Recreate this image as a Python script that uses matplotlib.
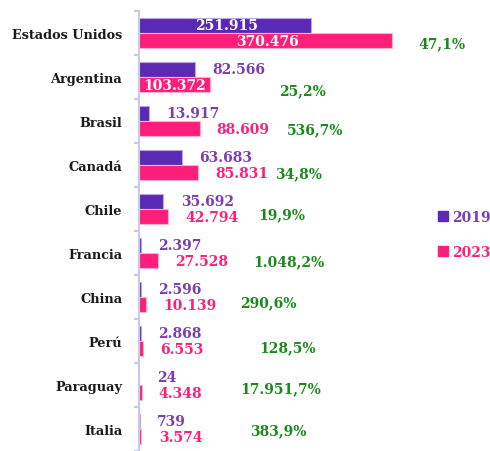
import numpy as np
import matplotlib
matplotlib.use('Agg')
import matplotlib.pyplot as plt
from matplotlib.patches import Patch

# Data
countries = ['Estados Unidos', 'Argentina', 'Brasil', 'Canadá', 'Chile',
             'Francia', 'China', 'Perú', 'Paraguay', 'Italia']
values_2019 = [251915, 82566, 13917, 63683, 35692, 2397, 2596, 2868, 24, 739]
values_2023 = [370476, 103372, 88609, 85831, 42794, 27528, 10139, 6553, 4348, 3574]
growth_labels = ['47,1%', '25,2%', '536,7%', '34,8%', '19,9%', '1.048,2%',
                 '290,6%', '128,5%', '17.951,7%', '383,9%']

# label placement (x in data units, y offset in category units)
lbl_x_2019 = [128800, 146400, 79000, 127000, 100000, 60000, 60000, 60000, 41000, 48000]
lbl_x_2023 = [187400, 52700, 152000, 151000, 107000, 92000, 75000, 63000, 61000, 61000]
lbl_x_pct = [443600, 240000, 258000, 233000, 209000, 220000, 190000, 217000, 208000, 204000]
pct_dy = [0.24, 0.29, 0.18, 0.18, 0.11, 0.18, 0.12, 0.13, 0.07, 0.03]
inside_2019 = [True] + [False] * 9
inside_2023 = [True, True] + [False] * 8

c19 = '#5B2AB5'
c23 = '#FF1F7A'
c19_txt = '#7A3EB1'
c_green = '#1A8A1A'
c_axis = '#C9C9EE'

plt.rcParams['font.family'] = 'DejaVu Serif'
plt.rcParams['font.weight'] = 'bold'

fig = plt.figure(figsize=(4.9, 4.52), dpi=100)
ax = fig.add_axes([139 / 490, 0, 351 / 490, 440 / 452])

y = np.arange(len(countries))
h = 0.35
ax.barh(y - h / 2, values_2019, height=h, color=c19, edgecolor='#B9A5E0', linewidth=0.8)
ax.barh(y + h / 2, values_2023, height=h, color=c23, edgecolor='#FFB0CF', linewidth=0.8)

fmt = lambda v: f'{v:,}'.replace(',', '.')
fs = 10
for i in range(len(countries)):
    ax.text(lbl_x_2019[i], i - h / 2, fmt(values_2019[i]), ha='center', va='center',
            fontsize=fs, fontweight='bold',
            color='white' if inside_2019[i] else c19_txt)
    ax.text(lbl_x_2023[i], i + h / 2, fmt(values_2023[i]), ha='center', va='center',
            fontsize=fs, fontweight='bold',
            color='white' if inside_2023[i] else c23)
    ax.text(lbl_x_pct[i], i + pct_dy[i], growth_labels[i], ha='center', va='center',
            fontsize=fs, fontweight='bold', color=c_green)

ax.set_xlim(0, 351 / 0.000683)
ax.set_ylim(9.34, -0.5)
ax.set_xticks([])
ax.set_yticks(y)
ax.set_yticklabels(countries, fontsize=9.3, fontweight='bold', color='#1a1a1a')
ax.tick_params(axis='y', which='major', length=0, pad=12)
ax.set_yticks(np.arange(len(countries) + 1) - 0.5, minor=True)
ax.tick_params(axis='y', which='minor', length=3.5, width=1.5, color=c_axis)
for s in ['top', 'right', 'bottom']:
    ax.spines[s].set_visible(False)
ax.spines['left'].set_color(c_axis)
ax.spines['left'].set_linewidth(1.5)

handles = [Patch(color=c19), Patch(color=c23)]
fig.legend(handles, ['2019', '2023'], loc='center left',
           bbox_to_anchor=(438 / 490, 1 - 235.5 / 452), frameon=False,
           labelcolor=[c19_txt, c23], handlelength=0.7, handleheight=0.7,
           handletextpad=0.3, labelspacing=1.5, borderpad=0, borderaxespad=0,
           prop={'family': 'DejaVu Serif', 'weight': 'bold', 'size': 10})

fig.savefig('out.png', dpi=100)
